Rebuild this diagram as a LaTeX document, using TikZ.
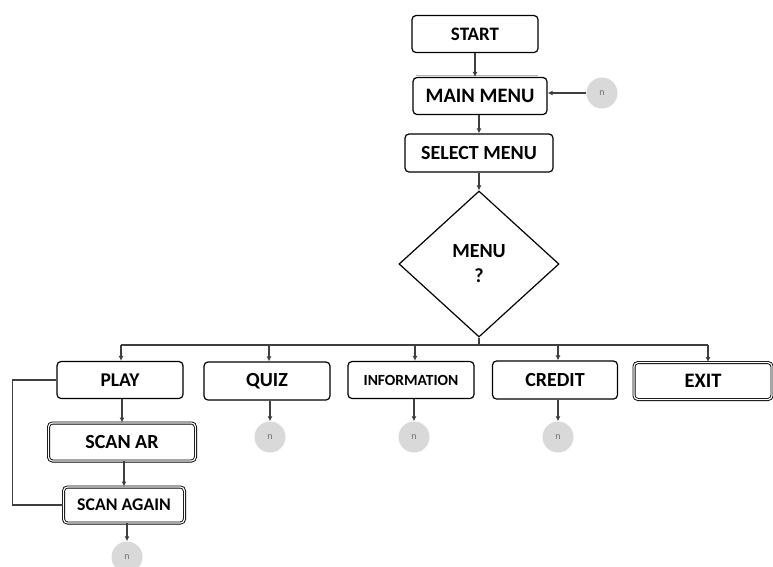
\documentclass[tikz,border=0pt]{standalone}
\usepackage{fontspec}
\setmainfont{Carlito}
\usetikzlibrary{shapes.geometric,arrows.meta}
\definecolor{ln}{HTML}{3F3F3F}
\definecolor{cfill}{HTML}{D9D9D9}
\tikzset{
  box/.style={draw=black, line width=1.2pt, rounded corners=4pt, fill=white, font=\bfseries, inner sep=0pt, anchor=center},
  dbox/.style={box, double=white, double distance=1.2pt, line width=0.9pt},
  conn/.style={draw=ln, line width=1.4pt, -{Latex[length=5pt,width=5pt]}},
  plain/.style={draw=ln, line width=1.4pt},
  nc/.style={circle, fill=cfill, draw=none, minimum size=31pt, inner sep=0pt, font=\fontsize{10}{12}\selectfont, text=black!55},
}
\begin{document}
\begin{tikzpicture}[x=1pt,y=-1pt]
\useasboundingbox (0,0) rectangle (773,566);
% nodes
\node[box, minimum width=126pt, minimum height=37pt, font=\bfseries\fontsize{19}{22}\selectfont] (start) at (475,34) {START};
\draw[gray!60, line width=1pt] (416,75.5) -- (538,75.5);
\node[box, minimum width=134pt, minimum height=37pt, font=\bfseries\fontsize{20.5}{23}\selectfont] (main) at (480,96) {MAIN MENU};
\node[nc] (n0) at (602,93) {n};
\node[box, minimum width=148pt, minimum height=38pt, font=\bfseries\fontsize{20}{23}\selectfont] (select) at (479,153) {SELECT MENU};
\node[diamond, draw=black, line width=1.2pt, fill=white, minimum width=160pt, minimum height=146pt, inner sep=0pt, align=center, font=\bfseries\fontsize{20}{25}\selectfont] (menu) at (479,264) {MENU\\?};
\coordinate (hj) at (479,345);
\coordinate (hl) at (121,345);
\coordinate (hq) at (269,345);
\coordinate (hi) at (415,345);
\coordinate (hc) at (558,345);
\coordinate (he) at (708,345);
\node[box, minimum width=126pt, minimum height=37pt, font=\bfseries\fontsize{19.5}{22}\selectfont] (play) at (120,380) {PLAY};
\node[box, minimum width=126pt, minimum height=38pt, font=\bfseries\fontsize{20}{23}\selectfont] (quiz) at (267,381) {QUIZ};
\node[box, minimum width=126pt, minimum height=37pt, font=\bfseries\fontsize{15.5}{18}\selectfont] (info) at (411,380) {INFORMATION};
\node[box, minimum width=125pt, minimum height=38pt, font=\bfseries\fontsize{20}{23}\selectfont] (credit) at (555,380) {CREDIT};
\node[dbox, minimum width=138pt, minimum height=37pt, font=\bfseries\fontsize{20.5}{23}\selectfont] (exit) at (703,381) {EXIT};
\node[nc] (nq) at (270,437) {n};
\node[nc] (ni) at (414,437) {n};
\node[nc] (ncr) at (558,437) {n};
\node[dbox, minimum width=147pt, minimum height=38pt, font=\bfseries\fontsize{20}{23}\selectfont] (scanar) at (122,442) {SCAN AR};
\node[dbox, minimum width=121pt, minimum height=36pt, font=\bfseries\fontsize{17.8}{20}\selectfont] (scanag) at (124,505) {SCAN AGAIN};
\node[nc] (ns) at (127,557) {n};
% connectors
\draw[conn] (start) -- (start|-main.north);
\draw[conn] (n0) -- (main.east|-n0);
\draw[conn] (main.south-|select) -- (select);
\draw[conn] (select) -- (menu.north);
\draw[plain] (menu.south) -- (hj);
\draw[plain] (hl) -- (he);
\draw[conn] (hl) -- (hl|-play.north);
\draw[conn] (hq) -- (hq|-quiz.north);
\draw[conn] (hi) -- (hi|-info.north);
\draw[conn] (hc) -- (hc|-credit.north);
\draw[conn] (he) -- (he|-exit.north);
\draw[conn] (quiz.south-|nq) -- (nq);
\draw[conn] (info.south-|ni) -- (ni);
\draw[conn] (credit.south-|ncr) -- (ncr);
\draw[conn] (play.south-|scanar) -- (scanar);
\draw[conn] (scanar.south-|scanag) -- (scanag);
\draw[conn] (scanag.south-|ns) -- (ns);
\draw[plain] (play.west) -- ++(-44,0) |- (scanag.west);
\end{tikzpicture}
\end{document}
